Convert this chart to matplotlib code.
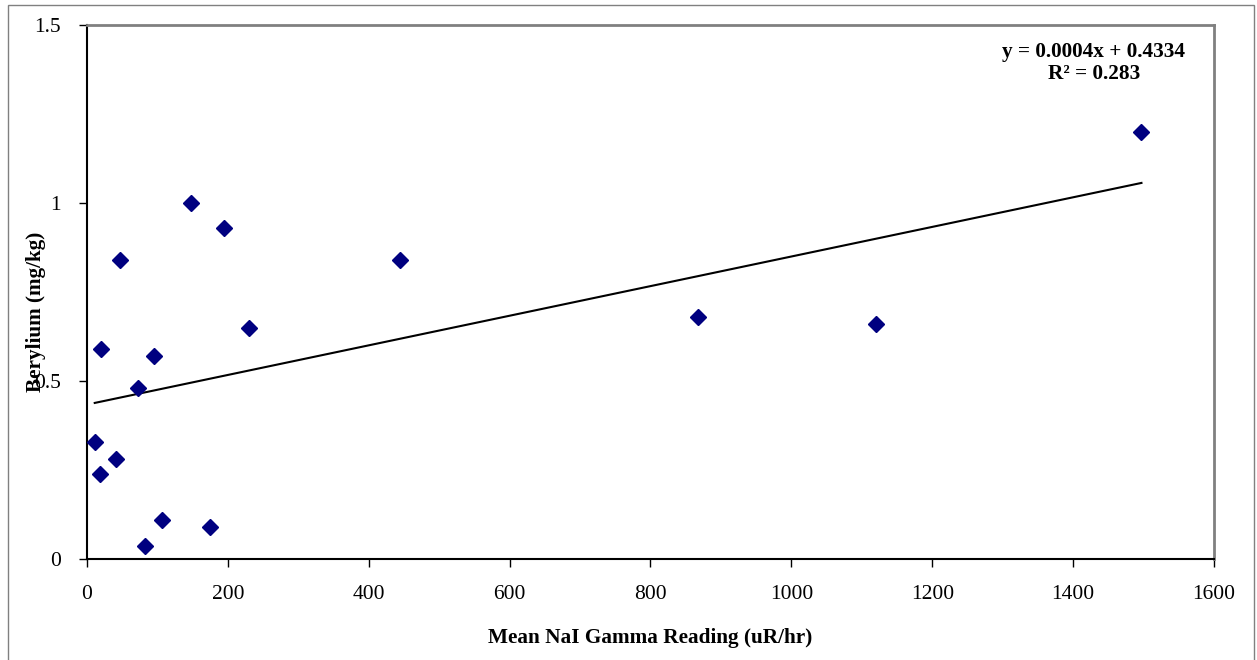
"""
Berylium vs NaI gamma scatter
"""

import matplotlib
matplotlib.use("Agg")

import matplotlib.pyplot as plt
import numpy as np
from matplotlib.patches import Rectangle


# ==========================================================
# Data
# ==========================================================

gamma_reading = [1497, 148, 194, 47, 444, 230, 867, 1120, 20,
                 95, 73, 11, 41, 18, 107, 175, 83]

berylium = [1.20, 1.00, 0.93, 0.84, 0.84, 0.65, 0.68, 0.66, 0.59,
            0.57, 0.48, 0.33, 0.28, 0.24, 0.11, 0.09, 0.036]

x_ticks = [0, 200, 400, 600, 800, 1000, 1200, 1400, 1600]
y_ticks = [0, 0.5, 1, 1.5]
y_tick_labels = ["0", "0.5", "1", "1.5"]

equation_text = "y = 0.0004x + 0.4334\nR\u00b2 = 0.283"


# ==========================================================
# Plot
# ==========================================================

def plot_berylium():

    plt.rcParams["font.family"] = ["Liberation Serif", "DejaVu Serif"]

    fig = plt.figure(figsize=(12.57, 6.6), dpi=100)

    # outer chart frame
    fig.patches.append(
        Rectangle(
            (8 / 1257, -0.02),
            1246 / 1257,
            1.02 - 5 / 660,
            transform=fig.transFigure,
            fill=False,
            edgecolor="#808080",
            linewidth=1
        )
    )

    ax = fig.add_axes([0.0692, 0.153, 0.8966, 0.8091])

    x = np.array(gamma_reading)
    y = np.array(berylium)

    ax.plot(
        x, y,
        linestyle="none",
        marker="D",
        markersize=8,
        color="#000080",
        zorder=3
    )

    slope, intercept = np.polyfit(x, y, 1)
    line_x = np.array([x.min(), x.max()])

    ax.plot(
        line_x,
        slope * line_x + intercept,
        color="black",
        linewidth=1.5,
        zorder=2
    )

    ax.set_xlim(0, 1600)
    ax.set_ylim(0, 1.5)

    ax.set_xticks(x_ticks)
    ax.set_yticks(y_ticks)
    ax.set_yticklabels(y_tick_labels)

    ax.tick_params(
        direction="out",
        length=6,
        width=1,
        labelsize=15.5,
        pad=13
    )

    for side in ["left", "bottom"]:
        ax.spines[side].set_color("black")
        ax.spines[side].set_linewidth(1.5)

    for side in ["top", "right"]:
        ax.spines[side].set_color("#808080")
        ax.spines[side].set_linewidth(2)

    ax.set_xlabel(
        "Mean NaI Gamma Reading (uR/hr)",
        fontsize=15.3,
        fontweight="bold",
        labelpad=17
    )

    # label sits on top of the 0.5 tick label, as in the original
    ax.set_ylabel(
        "Berylium (mg/kg)",
        fontsize=15.2,
        fontweight="bold"
    )
    ax.yaxis.set_label_coords(-0.036, 0.4625)

    ax.text(
        1094 / 1257, 1 - 63 / 660,
        equation_text,
        transform=fig.transFigure,
        ha="center",
        va="center",
        fontsize=15.3,
        fontweight="bold",
        linespacing=1.15
    )

    fig.savefig("out.png", dpi=100)

    plt.close(fig)


plot_berylium()
